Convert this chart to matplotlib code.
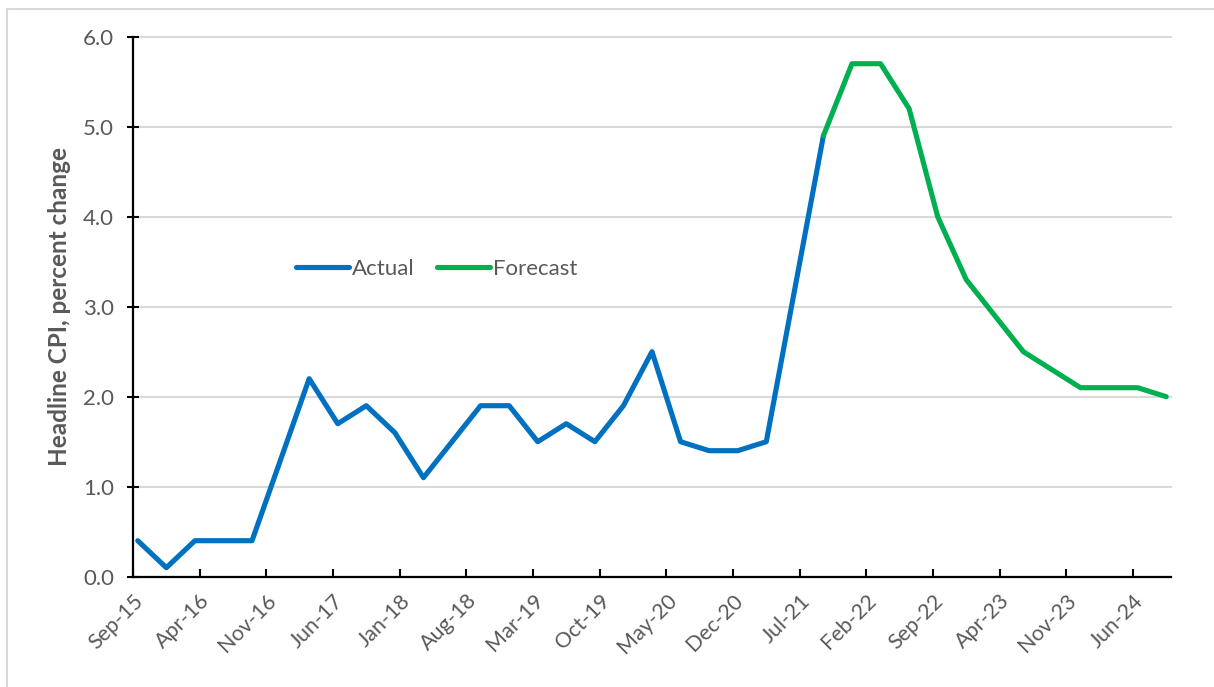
import matplotlib
matplotlib.use("Agg")
import matplotlib.pyplot as plt
import matplotlib.patches as mpatches
import pandas as pd

# Quarterly headline CPI (percent change), Sep-15 .. Sep-24
quarters = pd.date_range("2015-09-01", "2024-09-01", freq="3MS")
actual_values = [0.4, 0.1, 0.4, 0.4, 0.4, 1.3, 2.2, 1.7, 1.9, 1.6, 1.1, 1.5, 1.9,
                 1.9, 1.5, 1.7, 1.5, 1.9, 2.5, 1.5, 1.4, 1.4, 1.5, 3.2, 4.9]
forecast_values = [4.9, 5.7, 5.7, 5.2, 4.0, 3.3, 2.9, 2.5, 2.3, 2.1, 2.1, 2.1, 2.0]
forecast_start = len(actual_values) - 1

tick_labels = ["Sep-15", "Apr-16", "Nov-16", "Jun-17", "Jan-18", "Aug-18",
               "Mar-19", "Oct-19", "May-20", "Dec-20", "Jul-21", "Feb-22",
               "Sep-22", "Apr-23", "Nov-23", "Jun-24"]
y_ticks = [0.0, 1.0, 2.0, 3.0, 4.0, 5.0, 6.0]
y_label = "Headline CPI, percent change"

BLUE = "#0070C0"
GREEN = "#00B050"
TEXT = "#595959"
GRID = "#D9D9D9"

plt.rcParams["font.family"] = ["Lato", "DejaVu Sans"]

# month slots on a date axis: each point sits in the middle of its month
start = quarters[0]
month_pos = [(d.year - start.year) * 12 + (d.month - start.month) + 0.5 for d in quarters]
x_actual = month_pos[:len(actual_values)]
x_forecast = month_pos[forecast_start:forecast_start + len(forecast_values)]
n_months = month_pos[-1] + 0.5
tick_pos = [7 * i for i in range(len(tick_labels))]

W, H = 1214, 687
fig = plt.figure(figsize=(W / 100, H / 100), dpi=100)
ax = fig.add_axes([133 / W, 1 - 576.7 / H, (1171 - 133) / W, 540 / H])

line_kw = dict(lw=3.7, solid_joinstyle="round", solid_capstyle="round", zorder=3)
ax.plot(x_actual, actual_values, color=BLUE, label="Actual", **line_kw)
ax.plot(x_forecast, forecast_values, color=GREEN, label="Forecast", **line_kw)

ax.set_xlim(0, n_months)
ax.set_ylim(0, 6)

ax.set_yticks(y_ticks)
ax.set_yticklabels([f"{v:.1f}" for v in y_ticks])
ax.set_xticks(tick_pos)
ax.set_xticklabels(tick_labels, rotation=45, ha="right", va="top",
                   rotation_mode="anchor")

ax.tick_params(axis="y", direction="inout", length=9, width=1.5,
               colors="black", labelcolor=TEXT, labelsize=16, pad=9)
ax.tick_params(axis="x", direction="in", length=5.5, width=1.5,
               colors="black", labelcolor=TEXT, labelsize=15.5, pad=10)

ax.yaxis.grid(True, color=GRID, lw=1.5)
ax.set_axisbelow(True)
for gl in ax.yaxis.get_gridlines():
    gl.set_clip_on(False)

for side in ("top", "right"):
    ax.spines[side].set_visible(False)
for side in ("left", "bottom"):
    ax.spines[side].set_linewidth(1.6)
    ax.spines[side].set_color("black")

ax.set_ylabel(y_label, fontsize=17.5, fontweight="bold", color=TEXT, labelpad=9)

leg = ax.legend(loc="center left", bbox_to_anchor=(0.157, 0.57), ncol=2,
                frameon=False, fontsize=16, handlelength=2.4,
                handletextpad=0.12, columnspacing=1.0, borderpad=0,
                borderaxespad=0)
for t in leg.get_texts():
    t.set_color(TEXT)

# chart-area border
fig.patches.append(mpatches.Rectangle((7 / W, -0.1), 1.2, 1 - 9 / H + 0.1,
                                      transform=fig.transFigure, fill=False,
                                      ec=GRID, lw=1.5))

fig.savefig("out.png", dpi=100, facecolor="white")
